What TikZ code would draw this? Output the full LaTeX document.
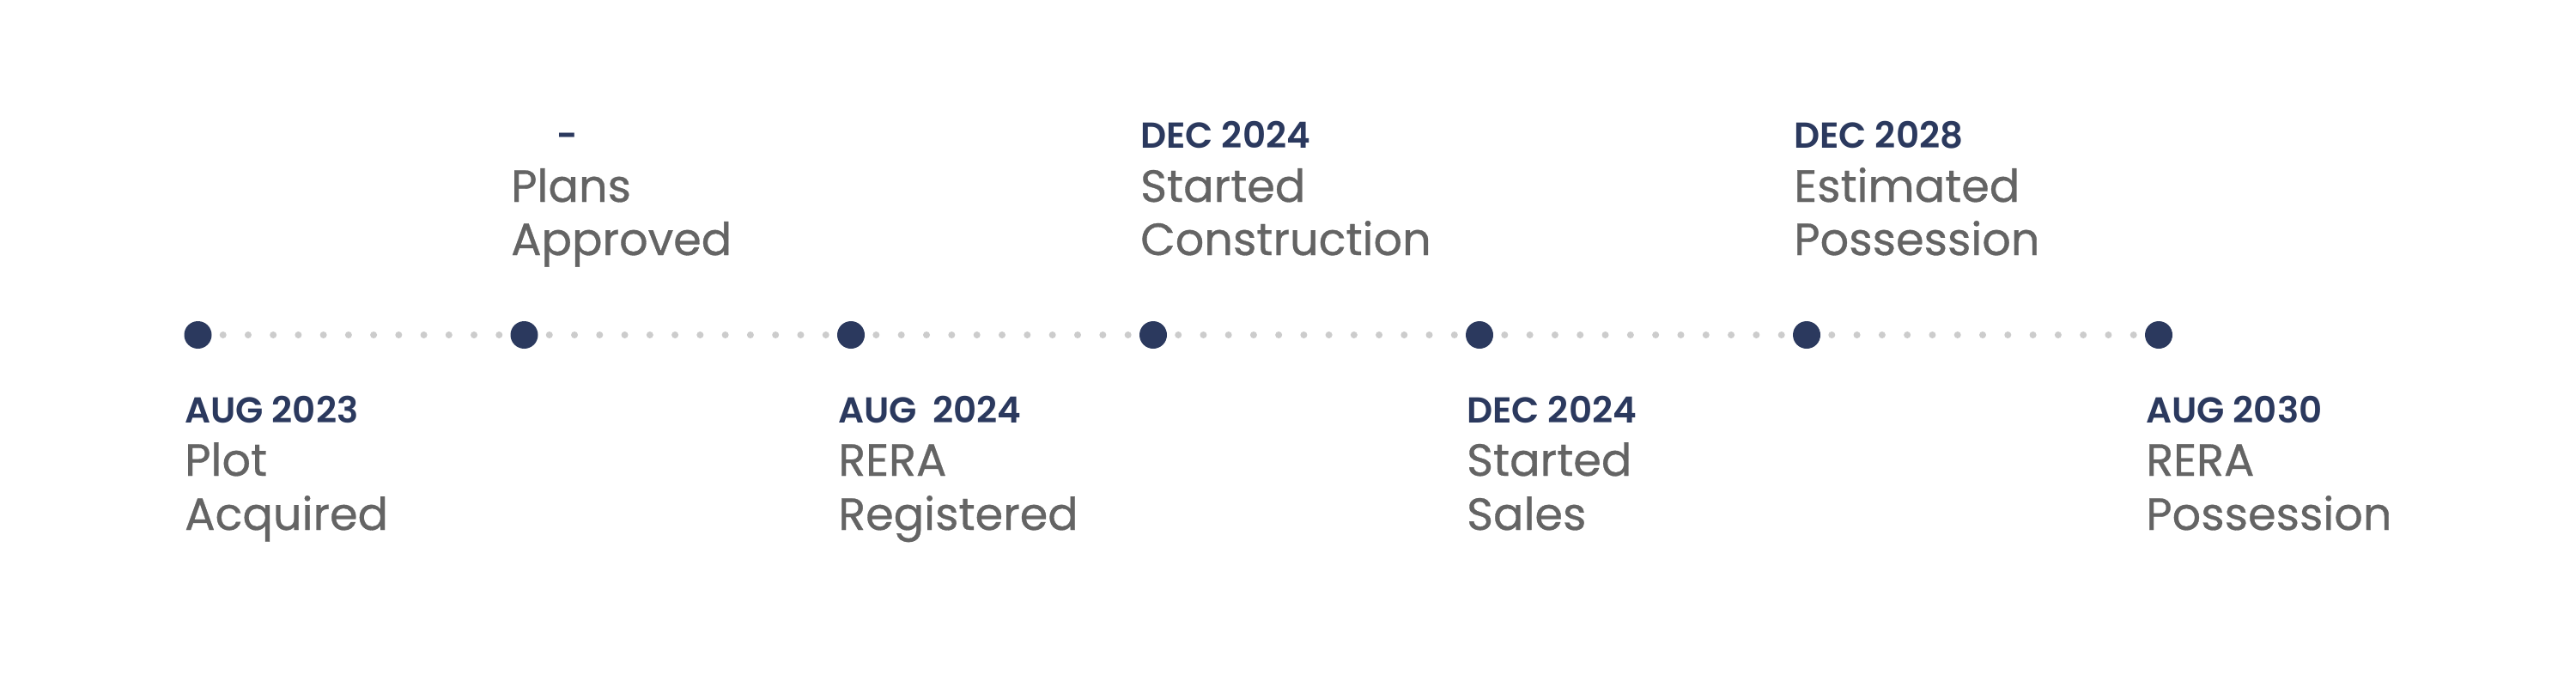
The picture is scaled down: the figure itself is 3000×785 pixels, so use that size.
\documentclass[tikz,border=0pt]{standalone}
\usepackage{fontspec}
\setmainfont{Poppins}[BoldFont={Poppins SemiBold}]
\newfontfamily\labfont{Poppins}[FakeBold=0.6]
\usetikzlibrary{calc}
\definecolor{navy}{HTML}{2B395E}
\definecolor{txtgray}{HTML}{646464}
\definecolor{dotgray}{HTML}{CCCCCC}
\tikzset{
  bigdot/.style={circle,fill=navy,draw=none,minimum size=32pt,inner sep=0pt},
  smalldot/.style={fill=dotgray},
  datetxt/.style={anchor=base west,inner sep=0pt,text=navy,font=\fontsize{42pt}{50pt}\selectfont\bfseries},
  labtxt/.style={anchor=base west,inner sep=0pt,text=txtgray,font=\labfont\fontsize{52.5pt}{63pt}\selectfont},
}
\begin{document}
\begin{tikzpicture}[x=1pt,y=-1pt]
\useasboundingbox[fill=white] (0,0) rectangle (3000,785);
% milestones
\node[bigdot] (d1) at (230.5,390) {};
\node[bigdot] (d2) at (610.5,390) {};
\node[bigdot] (d3) at (991,390) {};
\node[bigdot] (d4) at (1343,390) {};
\node[bigdot] (d5) at (1723,390) {};
\node[bigdot] (d6) at (2104,390) {};
\node[bigdot] (d7) at (2514,390) {};
% dotted connectors
\foreach \a/\b/\n in {d1/d2/13,d2/d3/13,d3/d4/12,d4/d5/13,d5/d6/13,d6/d7/14}{
  \pgfmathtruncatemacro{\m}{\n-1}
  \foreach \i in {1,...,\m}{
    \fill[smalldot] ($(\a.center)!{\i/\n}!(\b.center)$) circle (4);
  }
}
% bottom labels
\node[datetxt] (t1) at (215,492) {AUG 2023};
\node[labtxt] (l1a) at (215,554) {Plot};
\node[labtxt] (l1b) at (215,617) {Acquired};
\node[datetxt] (t3) at (976,492) {AUG\hspace{0.2em}\ 2024};
\node[labtxt] (l3a) at (976,554) {RERA};
\node[labtxt] (l3b) at (976,617) {Registered};
\node[datetxt] (t5) at (1708,492) {DEC 2024};
\node[labtxt] (l5a) at (1708,554) {Started};
\node[labtxt] (l5b) at (1708,617) {Sales};
\node[datetxt] (t7) at (2499,492) {AUG 2030};
\node[labtxt] (l7a) at (2499,554) {RERA};
\node[labtxt] (l7b) at (2499,617) {Possession};
% top labels
\node[datetxt] (t2) at (648,172) {-};
\node[labtxt] (l2a) at (595,235) {Plans};
\node[labtxt] (l2b) at (595,297) {Approved};
\node[datetxt] (t4) at (1328,172) {DEC 2024};
\node[labtxt] (l4a) at (1328,235) {Started};
\node[labtxt] (l4b) at (1328,297) {Construction};
\node[datetxt] (t6) at (2089,172) {DEC 2028};
\node[labtxt] (l6a) at (2089,235) {Estimated};
\node[labtxt] (l6b) at (2089,297) {Possession};
\end{tikzpicture}
\end{document}
